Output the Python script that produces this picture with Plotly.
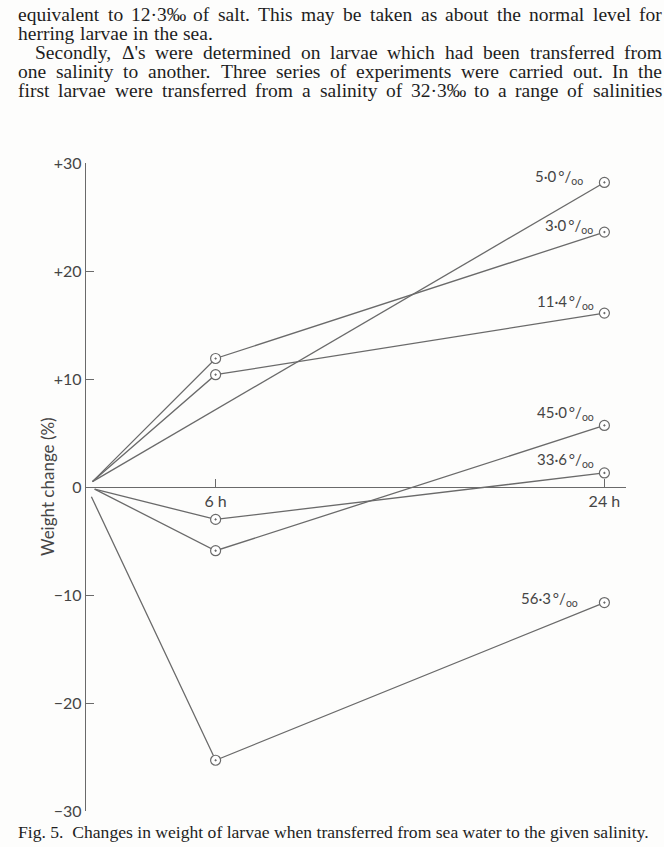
import plotly.graph_objects as go

# ---------------- data ----------------
salinity_labels = ["5·0", "3·0", "11·4", "45·0", "33·6", "56·3"]

hours_5_0 = [0.3, 24]
weight_5_0 = [0.5, 28.2]

hours_3_0 = [0.3, 6, 24]
weight_3_0 = [0.5, 11.9, 23.6]

hours_11_4 = [0.3, 6, 24]
weight_11_4 = [0.5, 10.4, 16.1]

hours_45_0 = [0.4, 6, 24]
weight_45_0 = [-0.2, -5.9, 5.7]

hours_33_6 = [0.4, 6, 24]
weight_33_6 = [-0.2, -3.0, 1.3]

hours_56_3 = [0.25, 6, 24]
weight_56_3 = [-0.9, -25.3, -10.7]

x_tick_vals = [6, 24]
x_tick_text = ["6 h", "24 h"]
y_tick_vals = [30, 20, 10, 0, -10, -20, -30]
y_tick_text = ["+30", "+20", "+10", "0", "−10", "−20", "−30"]

text_lines = [
    "equivalent to 12·3‰ of salt. This may be taken as about the normal level for",
    "herring larvae in the sea.",
    "Secondly, Δ's were determined on larvae which had been transferred from",
    "one salinity to another. Three series of experiments were carried out. In the",
    "first larvae were transferred from a salinity of 32·3‰ to a range of salinities",
]
caption = "Fig. 5.  Changes in weight of larvae when transferred from sea water to the given salinity."

# ---------------- layout constants ----------------
W, H = 664, 847
ML, MR, MT, MB = 86, 38, 163, 36
PW, PH = W - ML - MR, H - MT - MB
LINE_COL = "#6a6a6a"
TEXT_COL = "#454545"
SANS = "Lato, 'Open Sans', sans-serif"
SERIF = "'Liberation Serif', 'DejaVu Serif', serif"

def px_x(px):
    return (px - ML) / PW

def px_y(py):
    return (H - MB - py) / PH

# Times / Liberation Serif advance widths (per 1000 em) for justification
TW = {' ': 250, 'a': 444, 'b': 500, 'c': 444, 'd': 500, 'e': 444, 'f': 333, 'g': 500,
      'h': 500, 'i': 278, 'j': 278, 'k': 500, 'l': 278, 'm': 778, 'n': 500, 'o': 500,
      'p': 500, 'q': 500, 'r': 333, 's': 389, 't': 278, 'u': 500, 'v': 500, 'w': 722,
      'x': 500, 'y': 500, 'z': 444, 'A': 722, 'B': 667, 'C': 667, 'D': 722, 'E': 611,
      'F': 556, 'G': 722, 'H': 722, 'I': 333, 'J': 389, 'K': 722, 'L': 611, 'M': 889,
      'N': 722, 'O': 722, 'P': 556, 'Q': 722, 'R': 667, 'S': 556, 'T': 611, 'U': 722,
      'V': 722, 'W': 944, 'X': 722, 'Y': 722, 'Z': 611, '.': 250, ',': 250, "'": 180,
      '·': 250, '‰': 1000, 'Δ': 612}
for d in "0123456789":
    TW[d] = 500

def tw(s, size):
    return sum(TW.get(c, 500) for c in s) / 1000.0 * size

series = [
    (hours_5_0, weight_5_0),
    (hours_3_0, weight_3_0),
    (hours_11_4, weight_11_4),
    (hours_45_0, weight_45_0),
    (hours_33_6, weight_33_6),
    (hours_56_3, weight_56_3),
]
# label offsets (pixels) relative to last point: (xshift of right edge, yshift)
label_offsets = [(-19, 5), (-9, 6), (-8, 11), (-8, 12), (-8, 13), (-24, 4)]

fig = go.Figure()
for hrs, wts in series:
    fig.add_trace(go.Scatter(x=hrs, y=wts, mode="lines",
                             line=dict(color=LINE_COL, width=1.3),
                             hoverinfo="skip", showlegend=False))
for hrs, wts in series:
    fig.add_trace(go.Scatter(x=hrs[1:], y=wts[1:], mode="markers",
                             marker=dict(symbol="circle-dot", size=10, color="white",
                                         line=dict(color=LINE_COL, width=1.2)),
                             hoverinfo="skip", showlegend=False))

annotations = []
for (hrs, wts), lab, (dx, dy) in zip(series, salinity_labels, label_offsets):
    annotations.append(dict(
        x=hrs[-1], y=wts[-1], xref="x", yref="y",
        text=f"{lab}\u2009°/<sub>oo</sub>", showarrow=False,
        xanchor="right", yanchor="middle", xshift=dx, yshift=dy,
        font=dict(family=SANS, size=15, color=TEXT_COL)))

# y axis title
annotations.append(dict(
    x=px_x(47), y=0.5, xref="paper", yref="paper", text="Weight change (%)",
    textangle=-90, showarrow=False, xanchor="center", yanchor="middle",
    font=dict(family=SANS, size=17, color=TEXT_COL)))

# page text above the figure, justified word by word
FS = 19.5
RIGHT = 660
line_pos = [(16, 14, True), (16, 33, False), (33, 52, True), (16, 71, True), (16, 90, True)]
for txt, (x0, y0, justify) in zip(text_lines, line_pos):
    words = txt.split(" ")
    widths = [tw(w, FS) for w in words]
    if justify and len(words) > 1:
        gap = (RIGHT - x0 - sum(widths)) / (len(words) - 1)
    else:
        gap = TW[' '] / 1000.0 * FS * 1.15
    xcur = x0
    for w, wd in zip(words, widths):
        annotations.append(dict(
            x=px_x(xcur), y=px_y(y0), xref="paper", yref="paper", text=w,
            showarrow=False, xanchor="left", yanchor="middle",
            font=dict(family=SERIF, size=FS, color="#1e1e1e")))
        xcur += wd + gap

annotations.append(dict(
    x=px_x(16), y=px_y(832), xref="paper", yref="paper", text=caption,
    showarrow=False, xanchor="left", yanchor="middle",
    font=dict(family=SERIF, size=17.6, color="#1e1e1e")))

fig.update_layout(
    width=W, height=H,
    margin=dict(l=ML, r=MR, t=MT, b=MB, pad=0),
    paper_bgcolor="#fdfdfc", plot_bgcolor="rgba(0,0,0,0)",
    showlegend=False,
    annotations=annotations,
    xaxis=dict(range=[0, 25], anchor="free", position=0.5,
               showline=True, linecolor=LINE_COL, linewidth=1.4,
               ticks="inside", ticklen=8, tickwidth=1.3, tickcolor=LINE_COL,
               tickvals=x_tick_vals, ticktext=x_tick_text,
               tickfont=dict(family=SANS, size=16, color=TEXT_COL),
               showgrid=False, zeroline=False, fixedrange=True),
    yaxis=dict(range=[-30, 30],
               showline=True, linecolor=LINE_COL, linewidth=1.4,
               ticks="inside", ticklen=8, tickwidth=1.3, tickcolor=LINE_COL,
               tickvals=y_tick_vals, ticktext=y_tick_text,
               tickfont=dict(family=SANS, size=16, color=TEXT_COL),
               showgrid=False, zeroline=False, fixedrange=True),
)

fig.write_html("out.html")
